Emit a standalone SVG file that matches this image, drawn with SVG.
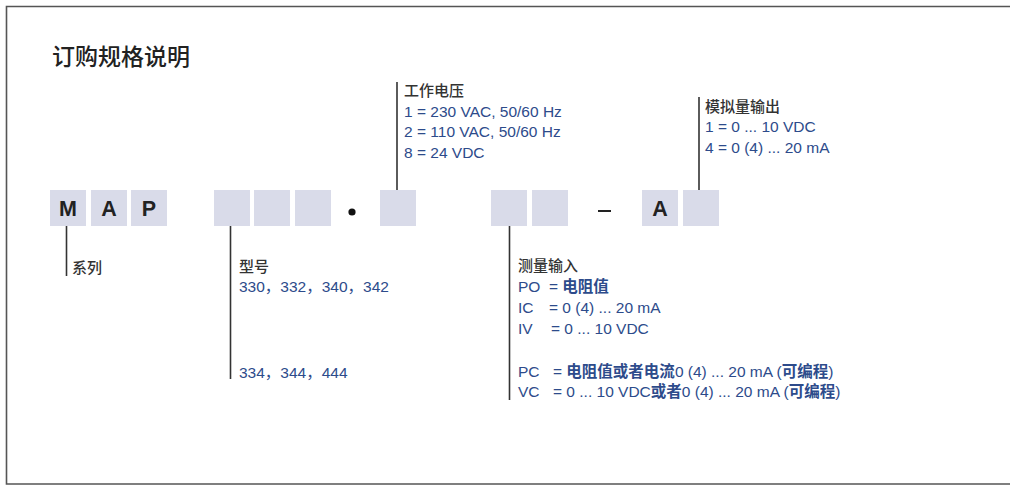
<svg xmlns="http://www.w3.org/2000/svg" width="1010" height="486" viewBox="0 0 1010 486">
<style>
text{font-family:"Liberation Sans","Noto Sans CJK SC",sans-serif}
.box{fill:#d9dbe9}
.big{font-size:21.5px;font-weight:bold;fill:#222;text-anchor:middle}
.lbl{font-size:15px;fill:#333;font-weight:500;font-family:"Noto Sans CJK SC","Liberation Sans",sans-serif}
.val{font-size:15.5px;fill:#2d4b8b}
.cj{font-family:"Noto Sans CJK SC",sans-serif;font-weight:bold}
.ln{stroke:#333;stroke-width:1.6;fill:none}
</style>
<rect width="1010" height="486" fill="#fff"/>
<path d="M1010 6.5 H6.5 V484 H1010" fill="none" stroke="#555" stroke-width="1.6"/>
<text x="52" y="65" style="font-family:'Noto Sans CJK SC',sans-serif;font-size:23px;font-weight:500;fill:#222">订购规格说明</text>
<g id="code">
<rect class="box" x="50" y="190" width="36" height="36"/>
<rect class="box" x="91" y="190" width="36" height="36"/>
<rect class="box" x="131" y="190" width="36" height="36"/>
<text class="big" x="68" y="216">M</text>
<text class="big" x="109" y="216">A</text>
<text class="big" x="149" y="216">P</text>
<rect class="box" x="214" y="190" width="36" height="36"/>
<rect class="box" x="254" y="190" width="36" height="36"/>
<rect class="box" x="295" y="190" width="36" height="36"/>
<circle cx="352" cy="212" r="3.6" fill="#111"/>
<rect class="box" x="380" y="190" width="36" height="36"/>
<rect class="box" x="491" y="190" width="36" height="36"/>
<rect class="box" x="532" y="190" width="36" height="36"/>
<line x1="598" y1="211" x2="611" y2="211" stroke="#222" stroke-width="2"/>
<rect class="box" x="642" y="190" width="36" height="36"/>
<text class="big" x="660" y="216">A</text>
<rect class="box" x="683" y="190" width="36" height="36"/>
</g>
<g id="connectors">
<line class="ln" x1="66.5" y1="226" x2="66.5" y2="276"/>
<line class="ln" x1="230.5" y1="226" x2="230.5" y2="379"/>
<line class="ln" x1="397" y1="82" x2="397" y2="190"/>
<line class="ln" x1="509.5" y1="226" x2="509.5" y2="400"/>
<line class="ln" x1="699" y1="97" x2="699" y2="190"/>
</g>
<g id="series">
<text class="lbl" x="72" y="273">系列</text>
</g>
<g id="model">
<text class="lbl" x="239" y="272">型号</text>
<text class="val" x="239" y="292">330，332，340，342</text>
<text class="val" x="239" y="378">334，344，444</text>
</g>
<g id="voltage">
<text class="lbl" x="404" y="96">工作电压</text>
<text class="val" x="404" y="117">1 = 230 VAC, 50/60 Hz</text>
<text class="val" x="404" y="137">2 = 110 VAC, 50/60 Hz</text>
<text class="val" x="404" y="158">8 = 24 VDC</text>
</g>
<g id="output">
<text class="lbl" x="705" y="112">模拟量输出</text>
<text class="val" x="705" y="132">1 = 0 ... 10 VDC</text>
<text class="val" x="705" y="153">4 = 0 (4) ... 20 mA</text>
</g>
<g id="input">
<text class="lbl" x="518" y="271">测量输入</text>
<text class="val" x="518" y="292">PO<tspan x="549">= </tspan><tspan class="cj">电阻值</tspan></text>
<text class="val" x="518" y="313">IC<tspan x="549">= 0 (4) ... 20 mA</tspan></text>
<text class="val" x="518" y="334">IV<tspan x="551">= 0 ... 10 VDC</tspan></text>
<text class="val" x="518" y="377">PC<tspan x="553">= </tspan><tspan class="cj">电阻值或者电流</tspan>0 (4) ... 20 mA (<tspan class="cj">可编程</tspan>)</text>
<text class="val" x="518" y="397">VC<tspan x="553">= 0 ... 10 VDC</tspan><tspan class="cj">或者</tspan>0 (4) ... 20 mA (<tspan class="cj">可编程</tspan>)</text>
</g>
</svg>
